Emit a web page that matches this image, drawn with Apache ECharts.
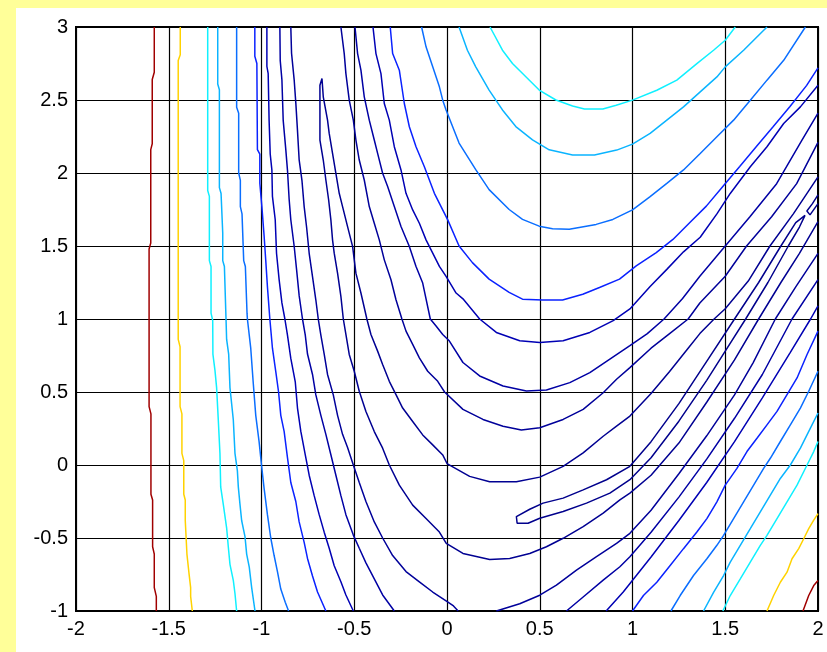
<!DOCTYPE html>
<html>
<head>
<meta charset="utf-8">
<script src="https://cdn.jsdelivr.net/npm/echarts@6/dist/echarts.min.js"></script>
<style>
  html, body { margin: 0; padding: 0; }
  #wrap { position: relative; width: 827px; height: 652px; background: #ffff99; }
  #paper { position: absolute; left: 16px; top: 8px; width: 811px; height: 644px; background: #fff; }
  #main { position: absolute; left: 0; top: 0; width: 827px; height: 652px; }
</style>
</head>
<body>
<div id="wrap"><div id="paper"></div><div id="main"></div></div>
<script>
// contour lines as [x, y] points
var redLeft = [[-1.578,3],[-1.578,2.69],[-1.589,2.64],[-1.589,2.2],[-1.597,2.16],[-1.597,1.52],[-1.606,1.48],[-1.606,0.4],[-1.596,0.35],[-1.596,-0.2],[-1.587,-0.24],[-1.587,-0.56],[-1.578,-0.61],[-1.578,-0.84],[-1.567,-0.9],[-1.567,-1]];
var yellowLeft = [[-1.438,3],[-1.438,2.81],[-1.449,2.77],[-1.449,0.86],[-1.439,0.81],[-1.439,0.4],[-1.429,0.35],[-1.429,0.08],[-1.419,0.03],[-1.419,-0.2],[-1.411,-0.24],[-1.411,-0.38],[-1.402,-0.61],[-1.391,-0.74],[-1.382,-0.84],[-1.382,-0.9],[-1.373,-1]];
var cyanLeft = [[-1.29,3],[-1.29,1.88],[-1.281,1.84],[-1.281,1.4],[-1.272,1.36],[-1.272,1.04],[-1.263,0.99],[-1.262,0.76],[-1.251,0.65],[-1.242,0.53],[-1.233,0.31],[-1.224,0.08],[-1.22,-0.15],[-1.206,-0.27],[-1.188,-0.43],[-1.179,-0.56],[-1.17,-0.68],[-1.152,-0.79],[-1.143,-0.88],[-1.134,-1]];
var skyLeft = [[-1.236,3],[-1.236,2.61],[-1.227,2.57],[-1.227,1.9],[-1.218,1.86],[-1.209,1.59],[-1.209,1.4],[-1.2,1.36],[-1.191,0.99],[-1.188,0.86],[-1.177,0.76],[-1.17,0.53],[-1.152,0.31],[-1.143,0.08],[-1.13,-0.04],[-1.125,-0.15],[-1.116,-0.27],[-1.107,-0.38],[-1.089,-0.49],[-1.08,-0.61],[-1.066,-0.7],[-1.053,-0.84],[-1.035,-1]];
var lightLeft = [[-1.134,3],[-1.134,2.45],[-1.123,2.41],[-1.123,2.0],[-1.114,1.95],[-1.114,1.77],[-1.105,1.72],[-1.096,1.4],[-1.087,1.36],[-1.078,1.04],[-1.076,1.0],[-1.058,0.8],[-1.045,0.57],[-1.031,0.34],[-1.013,0.16],[-1.0,0.0],[-0.986,-0.16],[-0.968,-0.34],[-0.95,-0.5],[-0.932,-0.62],[-0.914,-0.73],[-0.896,-0.85],[-0.872,-0.94],[-0.854,-1]];
var blueLeft = [[-1.036,3],[-1.036,2.8],[-1.025,2.75],[-1.022,2.16],[-1.009,2.13],[-1.009,1.93],[-0.998,1.77],[-0.986,1.57],[-0.977,1.4],[-0.968,1.22],[-0.955,1.0],[-0.941,0.8],[-0.923,0.64],[-0.908,0.5],[-0.896,0.34],[-0.878,0.23],[-0.86,0.05],[-0.842,-0.12],[-0.815,-0.25],[-0.797,-0.39],[-0.77,-0.53],[-0.752,-0.64],[-0.725,-0.76],[-0.698,-0.87],[-0.653,-1]];
var dark1Left = [[-0.971,3],[-0.971,2.73],[-0.964,2.68],[-0.959,2.36],[-0.953,2.13],[-0.944,2.02],[-0.941,1.84],[-0.926,1.68],[-0.919,1.45],[-0.905,1.27],[-0.89,1.11],[-0.874,1.0],[-0.86,0.89],[-0.842,0.73],[-0.818,0.57],[-0.806,0.39],[-0.788,0.23],[-0.764,0.07],[-0.743,-0.07],[-0.716,-0.21],[-0.689,-0.34],[-0.662,-0.46],[-0.635,-0.57],[-0.608,-0.69],[-0.572,-0.8],[-0.545,-0.89],[-0.505,-1]];
var dark2Left = [[-0.901,3],[-0.899,2.77],[-0.89,2.64],[-0.883,2.36],[-0.869,2.16],[-0.86,2.02],[-0.851,1.82],[-0.842,1.68],[-0.824,1.5],[-0.811,1.34],[-0.797,1.16],[-0.779,1.0],[-0.764,0.89],[-0.752,0.76],[-0.725,0.62],[-0.707,0.48],[-0.68,0.34],[-0.653,0.21],[-0.626,0.07],[-0.599,-0.07],[-0.572,-0.21],[-0.545,-0.34],[-0.505,-0.48],[-0.473,-0.57],[-0.437,-0.67],[-0.392,-0.78],[-0.347,-0.89],[-0.284,-1]];
var dark3Left = [[-0.842,3],[-0.838,2.82],[-0.824,2.64],[-0.815,2.48],[-0.806,2.29],[-0.797,2.09],[-0.782,1.95],[-0.77,1.77],[-0.757,1.63],[-0.743,1.45],[-0.725,1.29],[-0.707,1.13],[-0.694,1.0],[-0.68,0.89],[-0.662,0.76],[-0.644,0.62],[-0.613,0.48],[-0.59,0.34],[-0.563,0.21],[-0.536,0.12],[-0.505,0.0],[-0.473,-0.12],[-0.437,-0.25],[-0.392,-0.39],[-0.347,-0.5],[-0.293,-0.62],[-0.221,-0.73],[-0.149,-0.8],[-0.077,-0.87],[-0.005,-0.93],[0.035,-0.965],[0.06,-1]];
// the spike line: lower U, up to the tip near (-0.67, 2.65), back down into the upper U
var spikeLine = [[2,1.667],[1.9,1.45],[1.8,1.25],[1.68,1.0],[1.55,0.72],[1.4,0.43],[1.25,0.15],[1.1,-0.07],[0.986,-0.193],[0.932,-0.239],[0.842,-0.33],[0.734,-0.422],[0.626,-0.502],[0.536,-0.56],[0.446,-0.606],[0.338,-0.64],[0.23,-0.647],[0.086,-0.606],[-0.004,-0.537],[-0.041,-0.459],[-0.113,-0.367],[-0.185,-0.275],[-0.257,-0.138],[-0.311,0.0],[-0.347,0.115],[-0.392,0.229],[-0.437,0.367],[-0.473,0.505],[-0.5,0.642],[-0.527,0.757],[-0.545,0.894],[-0.559,1.0],[-0.572,1.155],[-0.59,1.314],[-0.608,1.451],[-0.617,1.542],[-0.626,1.679],[-0.638,1.815],[-0.653,1.952],[-0.667,2.089],[-0.685,2.226],[-0.685,2.601],[-0.674,2.647],[-0.667,2.522],[-0.644,2.362],[-0.635,2.271],[-0.617,2.134],[-0.599,1.998],[-0.581,1.861],[-0.563,1.77],[-0.536,1.633],[-0.509,1.497],[-0.491,1.314],[-0.464,1.178],[-0.432,1.0],[-0.41,0.894],[-0.374,0.78],[-0.347,0.688],[-0.311,0.573],[-0.275,0.482],[-0.239,0.39],[-0.185,0.298],[-0.131,0.206],[-0.077,0.138],[-0.023,0.069],[0.0,0.01],[0.122,-0.078],[0.23,-0.115],[0.374,-0.115],[0.5,-0.083],[0.626,-0.009],[0.734,0.083],[0.842,0.197],[0.914,0.266],[0.986,0.335],[1.1,0.49],[1.2,0.64],[1.3,0.8],[1.363,0.9],[1.44,1.0],[1.5,1.07],[1.624,1.26],[1.741,1.5],[1.867,1.72],[2,1.973]];
var tongue = [[0.986,-0.009],[0.86,-0.101],[0.734,-0.17],[0.626,-0.227],[0.518,-0.261],[0.446,-0.303],[0.374,-0.353],[0.378,-0.399],[0.437,-0.399],[0.5,-0.365],[0.626,-0.319],[0.752,-0.261],[0.878,-0.193],[0.986,-0.101],[1.1,0.05],[1.25,0.3],[1.4,0.58],[1.5,0.78],[1.61,1.0],[1.73,1.25],[1.84,1.5],[1.9,1.63],[1.93,1.71],[1.88,1.66],[1.8,1.5],[1.68,1.25],[1.55,1.0],[1.4,0.71],[1.25,0.42],[1.1,0.16],[0.986,-0.009]];
var notch = [[2,1.85],[1.97,1.79],[1.94,1.74],[1.957,1.713],[2,1.79]];
var upper7 = [[-0.572,3],[-0.554,2.818],[-0.545,2.681],[-0.527,2.499],[-0.505,2.362],[-0.491,2.226],[-0.473,2.089],[-0.446,1.952],[-0.419,1.77],[-0.392,1.656],[-0.365,1.542],[-0.338,1.405],[-0.302,1.269],[-0.275,1.132],[-0.243,1.0],[-0.221,0.917],[-0.185,0.826],[-0.149,0.734],[-0.104,0.642],[-0.05,0.573],[-0.013,0.5],[0.086,0.381],[0.194,0.312],[0.302,0.266],[0.401,0.239],[0.5,0.255],[0.626,0.312],[0.734,0.381],[0.842,0.495],[0.914,0.587],[0.986,0.667],[1.1,0.8],[1.2,0.9],[1.3,1.0],[1.363,1.11],[1.5,1.293],[1.615,1.5],[1.75,1.7],[1.885,1.927],[2,2.21]];
var upper6 = [[-0.496,3],[-0.482,2.818],[-0.464,2.704],[-0.446,2.522],[-0.419,2.362],[-0.392,2.226],[-0.374,2.134],[-0.347,1.998],[-0.32,1.907],[-0.284,1.77],[-0.248,1.633],[-0.203,1.497],[-0.167,1.36],[-0.131,1.246],[-0.09,1.0],[-0.059,0.952],[-0.023,0.894],[0.013,0.849],[0.086,0.702],[0.176,0.61],[0.302,0.541],[0.428,0.507],[0.536,0.514],[0.662,0.564],[0.77,0.633],[0.878,0.725],[0.986,0.817],[1.08,0.9],[1.17,1.0],[1.27,1.14],[1.363,1.293],[1.5,1.5],[1.633,1.7],[1.777,1.927],[1.912,2.222],[2,2.41]];
var upper5 = [[-0.399,3],[-0.383,2.818],[-0.356,2.681],[-0.338,2.476],[-0.311,2.362],[-0.284,2.18],[-0.248,2.021],[-0.221,1.861],[-0.185,1.747],[-0.149,1.656],[-0.113,1.542],[-0.077,1.451],[-0.041,1.36],[-0.005,1.292],[0.049,1.178],[0.086,1.138],[0.176,1.0],[0.266,0.908],[0.392,0.851],[0.5,0.839],[0.626,0.851],[0.77,0.908],[0.896,0.989],[0.986,1.069],[1.095,1.223],[1.185,1.34],[1.275,1.46],[1.365,1.56],[1.455,1.72],[1.527,1.86],[1.635,2.043],[1.725,2.18],[1.815,2.339],[1.905,2.453],[2,2.601]];
var upper4 = [[-0.306,3],[-0.293,2.818],[-0.257,2.704],[-0.23,2.476],[-0.203,2.317],[-0.167,2.18],[-0.122,2.043],[-0.095,1.952],[-0.068,1.861],[-0.032,1.77],[0.004,1.679],[0.065,1.5],[0.137,1.386],[0.227,1.273],[0.335,1.182],[0.407,1.136],[0.515,1.13],[0.623,1.13],[0.732,1.17],[0.822,1.216],[0.93,1.273],[1.02,1.364],[1.128,1.455],[1.218,1.545],[1.308,1.659],[1.398,1.773],[1.488,1.909],[1.578,2.045],[1.668,2.182],[1.759,2.318],[1.849,2.455],[1.939,2.6],[2,2.72]];
var upper3 = [[-0.137,3],[-0.113,2.864],[-0.077,2.727],[-0.041,2.59],[-0.023,2.499],[-0.005,2.431],[0.065,2.205],[0.155,2.023],[0.227,1.886],[0.335,1.75],[0.407,1.682],[0.497,1.636],[0.569,1.618],[0.659,1.614],[0.804,1.648],[0.894,1.682],[1.0,1.747],[1.095,1.838],[1.185,1.929],[1.275,2.021],[1.365,2.134],[1.455,2.248],[1.545,2.362],[1.635,2.499],[1.725,2.636],[1.815,2.772],[1.932,3]];
var upper2 = [[0.065,3],[0.11,2.841],[0.155,2.727],[0.227,2.568],[0.299,2.432],[0.371,2.318],[0.461,2.227],[0.551,2.159],[0.677,2.123],[0.795,2.123],[0.915,2.157],[1.0,2.198],[1.095,2.271],[1.185,2.362],[1.275,2.453],[1.365,2.556],[1.455,2.658],[1.5,2.727],[1.599,2.841],[1.725,3]];
var upper1 = [[0.232,3],[0.299,2.841],[0.353,2.75],[0.425,2.659],[0.497,2.568],[0.587,2.5],[0.677,2.459],[0.741,2.439],[0.84,2.439],[0.912,2.464],[1.0,2.499],[1.131,2.567],[1.239,2.636],[1.347,2.749],[1.437,2.841],[1.5,2.909],[1.554,3]];
var dark3Right = [[0.266,-1],[0.392,-0.95],[0.5,-0.892],[0.59,-0.823],[0.698,-0.72],[0.806,-0.628],[0.914,-0.537],[0.986,-0.468],[1.1,-0.31],[1.25,-0.06],[1.4,0.2],[1.55,0.48],[1.65,0.7],[1.77,1.0],[1.88,1.22],[2,1.45]];
var dark2Right = [[0.644,-1],[0.734,-0.904],[0.842,-0.789],[0.932,-0.697],[0.986,-0.628],[1.1,-0.46],[1.25,-0.22],[1.4,0.04],[1.55,0.32],[1.7,0.62],[1.86,1.0],[2,1.27]];
var dark1Right = [[0.858,-1],[0.95,-0.87],[1.1,-0.63],[1.25,-0.38],[1.4,-0.12],[1.55,0.16],[1.7,0.46],[1.85,0.77],[1.96,1.0],[2,1.09]];
var blueRight = [[1.0,-1],[1.059,-0.894],[1.131,-0.803],[1.203,-0.688],[1.275,-0.573],[1.347,-0.459],[1.401,-0.367],[1.455,-0.252],[1.5,-0.138],[1.563,-0.023],[1.617,0.092],[1.671,0.183],[1.725,0.275],[1.779,0.367],[1.833,0.482],[1.887,0.596],[1.941,0.757],[2,0.917]];
var lightRight = [[1.207,-1],[1.257,-0.894],[1.329,-0.757],[1.401,-0.642],[1.455,-0.55],[1.491,-0.482],[1.545,-0.367],[1.599,-0.252],[1.653,-0.138],[1.707,-0.023],[1.743,0.046],[1.797,0.161],[1.851,0.275],[1.905,0.39],[1.95,0.505],[2,0.642]];
var skyRight = [[1.383,-1],[1.437,-0.872],[1.491,-0.757],[1.527,-0.665],[1.581,-0.55],[1.635,-0.436],[1.689,-0.321],[1.743,-0.206],[1.797,-0.092],[1.851,0.0],[1.905,0.115],[1.959,0.252],[2,0.356]];
var cyanRight = [[1.487,-1],[1.527,-0.894],[1.581,-0.78],[1.635,-0.665],[1.689,-0.55],[1.725,-0.482],[1.779,-0.367],[1.833,-0.252],[1.887,-0.138],[1.941,0.0],[1.977,0.092],[2,0.161]];
var yellowRight = [[1.725,-1],[1.761,-0.894],[1.797,-0.803],[1.833,-0.734],[1.86,-0.642],[1.896,-0.573],[1.923,-0.505],[1.95,-0.436],[1.977,-0.378],[2,-0.333]];
var redRight = [[1.919,-1],[1.95,-0.894],[1.977,-0.826],[2,-0.791]];

// which contour level each line belongs to (0 = lowest)
var contourLines = [
    [tongue, 0], [notch, 0], [spikeLine, 1],
    [dark3Left, 2], [dark3Right, 2], [upper7, 2],
    [dark2Left, 3], [dark2Right, 3], [upper6, 3],
    [dark1Left, 4], [dark1Right, 4], [upper5, 4],
    [blueLeft, 5], [blueRight, 5], [upper4, 5],
    [lightLeft, 6], [lightRight, 6], [upper3, 6],
    [skyLeft, 7], [skyRight, 7], [upper2, 7],
    [cyanLeft, 8], [cyanRight, 8], [upper1, 8],
    [yellowLeft, 9], [yellowRight, 9],
    [redLeft, 10], [redRight, 10]
];
var xTicks = {min: -2, max: 2, step: 0.5};
var yTicks = {min: -1, max: 3, step: 0.5};

var levelColors = ['#00008c', '#000092', '#00009a', '#0000a4', '#0000b4',
    '#0a22ff', '#0a6eff', '#0ab4ff', '#10f0ff', '#ffd200', '#a00000'];

var chart = echarts.init(document.getElementById('main'));
var labelFont = {color: '#000', fontSize: 20, fontFamily: 'Liberation Sans, Arial, sans-serif'};

var option = {
    animation: false,
    grid: {
        left: 76, right: 9, top: 27, bottom: 41,
        show: true, backgroundColor: '#fff', borderColor: '#000', borderWidth: 2
    },
    xAxis: {
        type: 'value', min: xTicks.min, max: xTicks.max, interval: xTicks.step,
        axisLine: {show: false}, axisTick: {show: false},
        splitLine: {show: true, lineStyle: {color: '#000', width: 1.2}},
        axisLabel: Object.assign({margin: 8}, labelFont)
    },
    yAxis: {
        type: 'value', min: yTicks.min, max: yTicks.max, interval: yTicks.step,
        axisLine: {show: false}, axisTick: {show: false},
        splitLine: {show: true, lineStyle: {color: '#000', width: 1.2}},
        axisLabel: Object.assign({margin: 8}, labelFont)
    },
    series: contourLines.map(function (c) {
        return {
            type: 'line',
            data: c[0],
            symbol: 'none',
            silent: true,
            clip: true,
            lineStyle: {width: 1.5, color: levelColors[c[1]]},
            itemStyle: {color: levelColors[c[1]]}
        };
    })
};
chart.setOption(option);
</script>
</body>
</html>
